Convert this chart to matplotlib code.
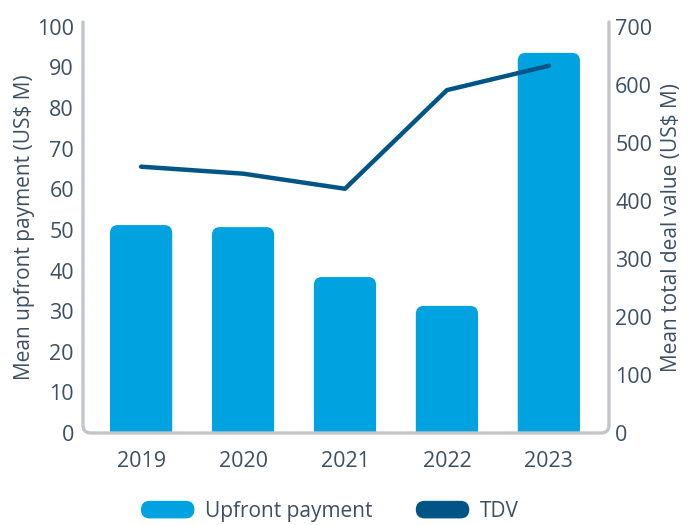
import matplotlib
matplotlib.use("Agg")
import matplotlib.pyplot as plt
from matplotlib.patches import FancyBboxPatch, PathPatch
from matplotlib.path import Path
from matplotlib.legend_handler import HandlerPatch
import matplotlib.patches as mpatches

plt.rcParams['font.family'] = ['Open Sans', 'DejaVu Sans']

years = ['2019', '2020', '2021', '2022', '2023']
upfront = [51.2, 50.7, 38.4, 31.3, 93.6]      # US$ M, left axis
tdv = [459, 447, 421, 591, 633]               # US$ M, right axis

bar_color = '#00a3e0'
line_color = '#005587'
text_color = '#3d4f63'
spine_color = '#c3c5cb'

W, H = 694, 525
fig = plt.figure(figsize=(W / 100, H / 100), dpi=100)
ax = fig.add_axes([83 / W, (H - 433) / H, (609 - 83) / W, (433 - 22) / H])
ax2 = ax.twinx()

ax.set_xlim(-0.57, 4.59)
ax.set_ylim(0, 101.2)
ax2.set_ylim(0, 708.4)

# rounded-top bars: box starts below zero so only the top corners show
ax_w = (609 - 83)
ax_h = (433 - 22)
x_per_px = (4.59 + 0.57) / ax_w
y_per_px = 101.2 / ax_h
bw = 0.61
r = 8 * x_per_px
for i, v in enumerate(upfront):
    p = FancyBboxPatch((i - bw / 2, -10), bw, v + 10,
                       boxstyle=f"round,pad=0,rounding_size={r}",
                       mutation_aspect=y_per_px / x_per_px,
                       fc=bar_color, ec='none', zorder=2)
    ax.add_patch(p)

ax2.plot(range(len(years)), tdv, color=line_color, lw=3.2,
         solid_capstyle='round', solid_joinstyle='round', zorder=3)

for a in (ax, ax2):
    for s in a.spines.values():
        s.set_visible(False)
    a.tick_params(length=0, labelsize=15.5, colors=text_color)

ax.set_yticks(range(0, 101, 10))
ax2.set_yticks(range(0, 701, 100))
ax.set_xticks(range(len(years)))
ax.set_xticklabels(years)
ax.tick_params(axis='x', pad=13)
ax.tick_params(axis='y', pad=6.5)
ax2.tick_params(axis='y', pad=4.5)

ax.set_ylabel('Mean upfront payment (US$ M)', fontsize=15, color=text_color)
ax2.set_ylabel('Mean total deal value (US$ M)', fontsize=15, color=text_color)
ax.yaxis.set_label_coords((35 - 83) / ax_w, 0.5)
ax2.yaxis.set_label_coords((661 - 83) / ax_w, 0.5)

# frame: left, bottom and right sides with rounded lower corners
rx, ry = 8 / ax_w, 8 / ax_h
verts = [(0, 1), (0, ry), (0, 0), (rx, 0), (1 - rx, 0), (1, 0), (1, ry), (1, 1)]
codes = [Path.MOVETO, Path.LINETO, Path.CURVE3, Path.CURVE3,
         Path.LINETO, Path.CURVE3, Path.CURVE3, Path.LINETO]
frame = PathPatch(Path(verts, codes), transform=ax.transAxes, fill=False,
                  ec=spine_color, lw=2.4, clip_on=False, zorder=5,
                  capstyle='round')
ax.add_patch(frame)


def round_handle(legend, orig_handle, xdescent, ydescent, width, height, fontsize):
    return FancyBboxPatch((-xdescent, -ydescent), width, height,
                          boxstyle=f"round,pad=0,rounding_size={height / 2}")


handles = [mpatches.Patch(color=bar_color, label='Upfront payment'),
           mpatches.Patch(color=line_color, label='TDV')]
fig.legend(handles=handles, loc='center', bbox_to_anchor=(0.476, 0.026),
           ncol=2, frameon=False, fontsize=15, labelcolor=text_color,
           handlelength=2.5, handleheight=0.82, handletextpad=0.55,
           columnspacing=2.1,
           handler_map={mpatches.Patch: HandlerPatch(patch_func=round_handle)})

fig.savefig('out.png', dpi=100)
